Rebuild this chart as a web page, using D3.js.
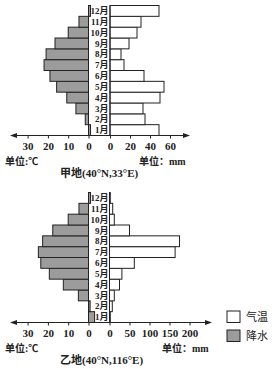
<!DOCTYPE html>
<html>
<head>
<meta charset="utf-8">
<script src="https://cdn.jsdelivr.net/npm/d3@7"></script>
<style>
  html, body { margin: 0; padding: 0; background: #fff; }
  svg text { font-family: "Liberation Serif", "Noto Sans CJK SC", serif; fill: #222; }
</style>
</head>
<body>
<svg id="chart" width="276" height="369"></svg>
<script>
// month categories, bottom (1月) to top (12月)
const months = ['1月', '2月', '3月', '4月', '5月', '6月', '7月', '8月', '9月', '10月', '11月', '12月'];

// 甲地 (40°N,33°E)
const tempA = [-1, 1.6, 6.2, 10.7, 15.7, 19, 21.9, 20.9, 16.5, 10, 4.7, -1];
const rainA = [49, 35, 33, 50, 54, 34, 14, 11, 19, 27, 31, 49];

// 乙地 (40°N,116°E)
const tempB = [-3, -0.8, 5, 12.4, 19.3, 23.5, 24.7, 22.6, 17.6, 10, 4.7, -1];
const rainB = [2, 7, 12, 25, 31, 62, 164, 175, 50, 12, 8, 2];

// tick labels
const tempTicks = [30, 20, 10, 0];
const rainTicksA = [0, 20, 40, 60];
const rainTicksB = [0, 50, 100, 150, 200];

const legendItems = [
  { label: '气温', fill: '#fff' },
  { label: '降水', fill: '#9c9c9c' }
];

const svg = d3.select('#chart');
const GRAY = '#9c9c9c';
const INK = '#222';

function drawPanel(opt) {
  const g = svg.append('g');

  // rows: 12月 on top
  const y = d3.scaleBand()
    .domain(months.slice().reverse())
    .range([opt.top, opt.axisY])
    .padding(0);

  // temperature grows to the left
  const xT = d3.scaleLinear().domain([0, 30]).range([88.5, 88.5 - 60.9]);
  // precipitation grows to the right
  const xR = d3.scaleLinear().domain(opt.rainDomain).range(opt.rainRange);

  // temperature bars
  g.selectAll('.tbar')
    .data(months)
    .enter().append('rect')
      .attr('class', 'tbar')
      .attr('x', (d, i) => Math.min(xT(0), xT(opt.temp[i])))
      .attr('y', d => y(d))
      .attr('width', (d, i) => Math.abs(xT(opt.temp[i]) - xT(0)))
      .attr('height', y.bandwidth())
      .attr('fill', GRAY)
      .attr('stroke', INK)
      .attr('stroke-width', 1);

  // precipitation bars
  g.selectAll('.rbar')
    .data(months)
    .enter().append('rect')
      .attr('class', 'rbar')
      .attr('x', xR(0))
      .attr('y', d => y(d))
      .attr('width', (d, i) => xR(opt.rain[i]) - xR(0))
      .attr('height', y.bandwidth())
      .attr('fill', '#fff')
      .attr('stroke', INK)
      .attr('stroke-width', 1);

  // precipitation zero line
  g.append('line')
    .attr('x1', xR(0)).attr('x2', xR(0))
    .attr('y1', opt.top).attr('y2', opt.axisY)
    .attr('stroke', INK).attr('stroke-width', 1);

  // month labels in the middle column
  g.selectAll('.mlab')
    .data(months)
    .enter().append('text')
      .attr('class', 'mlab')
      .attr('x', 108.5)
      .attr('y', d => y(d) + y.bandwidth() / 2)
      .attr('dy', '0.35em')
      .attr('text-anchor', 'end')
      .attr('font-size', 9)
      .attr('font-weight', 'bold')
      .text(d => d);

  // horizontal axis with arrows at both ends
  g.append('line')
    .attr('x1', 12).attr('x2', opt.arrowEnd - 2)
    .attr('y1', opt.axisY).attr('y2', opt.axisY)
    .attr('stroke', INK).attr('stroke-width', 1);
  g.append('path')
    .attr('d', `M10,${opt.axisY}L17,${opt.axisY - 2.5}L17,${opt.axisY + 2.5}Z`)
    .attr('fill', INK);
  g.append('path')
    .attr('d', `M${opt.arrowEnd},${opt.axisY}L${opt.arrowEnd - 7},${opt.axisY - 2.5}L${opt.arrowEnd - 7},${opt.axisY + 2.5}Z`)
    .attr('fill', INK);

  // temperature ticks
  const axT = d3.axisBottom(xT).tickValues(tempTicks).tickSize(3).tickPadding(4);
  const gT = g.append('g').attr('transform', `translate(0,${opt.axisY})`).call(axT);
  gT.select('.domain').remove();

  // precipitation ticks
  const axR = d3.axisBottom(xR).tickValues(opt.rainTicks).tickSize(3).tickPadding(4);
  const gR = g.append('g').attr('transform', `translate(0,${opt.axisY})`).call(axR);
  gR.select('.domain').remove();

  [gT, gR].forEach(a => {
    a.selectAll('line').attr('stroke', INK);
    a.selectAll('text')
      .attr('font-size', 11)
      .attr('font-weight', 'bold')
      .attr('fill', INK)
      .style('font-family', '"Liberation Serif", serif');
  });

  // unit labels
  g.append('text')
    .attr('x', 5).attr('y', opt.axisY + 29)
    .attr('font-size', 10).attr('font-weight', 'bold')
    .text('单位:℃');
  g.append('text')
    .attr('x', opt.unitRightX).attr('y', opt.axisY + 29)
    .attr('font-size', 10).attr('font-weight', 'bold')
    .text('单位：mm');

  // panel title
  g.append('text')
    .attr('x', 60).attr('y', opt.axisY + 41)
    .attr('font-size', 11).attr('font-weight', 'bold')
    .text(opt.title);
}

drawPanel({
  top: 5.5, axisY: 135.5,
  temp: tempA, rain: rainA,
  rainDomain: [0, 60], rainRange: [110, 170],
  rainTicks: rainTicksA,
  arrowEnd: 190, unitRightX: 139,
  title: '甲地(40°N,33°E)'
});

drawPanel({
  top: 192.5, axisY: 322.5,
  temp: tempB, rain: rainB,
  rainDomain: [0, 200], rainRange: [109.5, 189.5],
  rainTicks: rainTicksB,
  arrowEnd: 212, unitRightX: 162,
  title: '乙地(40°N,116°E)'
});

// legend
const legend = svg.append('g').attr('transform', 'translate(227,311)');
const lg = legend.selectAll('g')
  .data(legendItems)
  .enter().append('g')
    .attr('transform', (d, i) => `translate(0,${i * 19})`);
lg.append('rect')
  .attr('width', 13).attr('height', 11.5)
  .attr('fill', d => d.fill)
  .attr('stroke', INK).attr('stroke-width', 1);
lg.append('text')
  .attr('x', 19).attr('y', 6)
  .attr('dy', '0.35em')
  .attr('font-size', 11)
  .text(d => d.label);
</script>
</body>
</html>
